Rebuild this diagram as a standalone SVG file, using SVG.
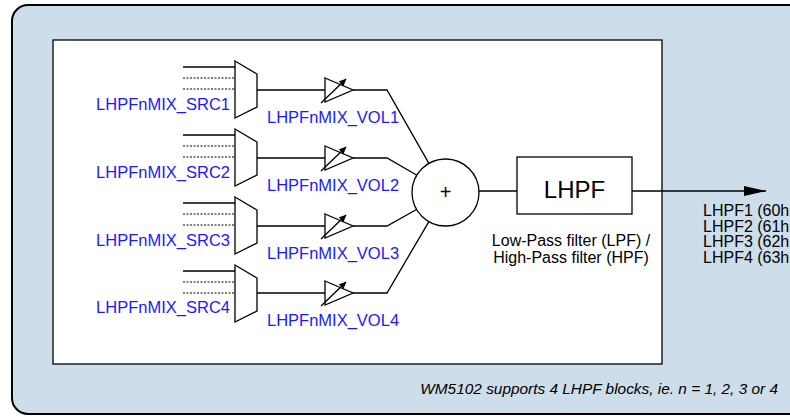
<svg xmlns="http://www.w3.org/2000/svg" width="790" height="419" viewBox="0 0 790 419">
<defs>
<style>
.ln{stroke:#000;stroke-width:1.3;fill:none}
.dt{stroke:#000;stroke-width:1;stroke-dasharray:2,1.5;fill:none}
.sh{stroke:#000;stroke-width:1.3;fill:#fff}
.blue{font-family:"Liberation Sans",Arial,sans-serif;font-size:16.5px;fill:#1a1aff}
.blk{font-family:"Liberation Sans",Arial,sans-serif;fill:#000}
</style>
<marker id="ah" markerWidth="8" markerHeight="8" refX="7" refY="4" orient="auto" markerUnits="userSpaceOnUse">
<path d="M0,0.5 L7.5,4 L0,7.5 Z" fill="#000"/>
</marker>
<marker id="big" markerWidth="24" markerHeight="12" refX="22" refY="6" orient="auto" markerUnits="userSpaceOnUse">
<path d="M0,1 L22,6 L0,11 Z" fill="#000"/>
</marker>
</defs>
<rect id="frame" x="12" y="5" width="800" height="409" rx="16" ry="16" fill="#cddde9" stroke="#000" stroke-width="2"/>
<rect id="panel" x="53" y="40" width="609" height="324" fill="#fff" stroke="#000" stroke-width="1.3"/>

<g id="connectors">
<g>
<line class="ln" x1="183" y1="67" x2="235" y2="67"/>
<line class="dt" x1="183" y1="78" x2="235" y2="78"/>
<line class="dt" x1="183" y1="89" x2="235" y2="89"/>
<line class="ln" x1="183" y1="135" x2="235" y2="135"/>
<line class="dt" x1="183" y1="146" x2="235" y2="146"/>
<line class="dt" x1="183" y1="157" x2="235" y2="157"/>
<line class="ln" x1="183" y1="203" x2="235" y2="203"/>
<line class="dt" x1="183" y1="214" x2="235" y2="214"/>
<line class="dt" x1="183" y1="225" x2="235" y2="225"/>
<line class="ln" x1="183" y1="271" x2="235" y2="271"/>
<line class="dt" x1="183" y1="282" x2="235" y2="282"/>
<line class="dt" x1="183" y1="293" x2="235" y2="293"/>
</g>
<line class="ln" x1="257" y1="90" x2="325" y2="90"/>
<line class="ln" x1="257" y1="158" x2="325" y2="158"/>
<line class="ln" x1="257" y1="226" x2="325" y2="226"/>
<line class="ln" x1="257" y1="293" x2="325" y2="293"/>
<polyline class="ln" points="353,90 387,90 428.9,163.4"/>
<polyline class="ln" points="353,158 387,158 416.5,175"/>
<polyline class="ln" points="353,226 387,226 416.5,209.5"/>
<polyline class="ln" points="353,293 387,293 428.9,221.6"/>
<line class="ln" x1="479" y1="191" x2="517" y2="191"/>
<line class="ln" x1="632" y1="191" x2="766" y2="191" marker-end="url(#big)"/>
</g>

<g id="mux1"><path class="sh" d="M235,61 L257,74 L257,107 L235,118 Z"/><text class="blue" x="230" y="110" text-anchor="end">LHPFnMIX_SRC1</text></g>
<g id="mux2"><path class="sh" d="M235,129 L257,142 L257,175 L235,186 Z"/><text class="blue" x="230" y="178" text-anchor="end">LHPFnMIX_SRC2</text></g>
<g id="mux3"><path class="sh" d="M235,197 L257,210 L257,243 L235,254 Z"/><text class="blue" x="230" y="246" text-anchor="end">LHPFnMIX_SRC3</text></g>
<g id="mux4"><path class="sh" d="M235,265 L257,278 L257,311 L235,322 Z"/><text class="blue" x="230" y="313" text-anchor="end">LHPFnMIX_SRC4</text></g>

<g id="vol1"><path class="sh" d="M325,78 L353,90 L325,102 Z"/><line class="ln" x1="321" y1="103" x2="346" y2="79" marker-end="url(#ah)"/><text class="blue" x="267" y="123" font-size="16">LHPFnMIX_VOL1</text></g>
<g id="vol2"><path class="sh" d="M325,146 L353,158 L325,170 Z"/><line class="ln" x1="321" y1="171" x2="346" y2="147" marker-end="url(#ah)"/><text class="blue" x="267" y="191" font-size="16">LHPFnMIX_VOL2</text></g>
<g id="vol3"><path class="sh" d="M325,214 L353,226 L325,238 Z"/><line class="ln" x1="321" y1="239" x2="346" y2="215" marker-end="url(#ah)"/><text class="blue" x="267" y="259" font-size="16">LHPFnMIX_VOL3</text></g>
<g id="vol4"><path class="sh" d="M325,281 L353,293 L325,305 Z"/><line class="ln" x1="321" y1="306" x2="346" y2="282" marker-end="url(#ah)"/><text class="blue" x="267" y="326" font-size="16">LHPFnMIX_VOL4</text></g>

<g id="sum"><circle class="sh" cx="445.5" cy="192.5" r="33.5"/><text class="blk" x="445.5" y="199" font-size="20" text-anchor="middle">+</text></g>

<g id="lhpf"><rect class="sh" x="517" y="157" width="115" height="57"/><text class="blk" x="574.5" y="198" font-size="24" text-anchor="middle">LHPF</text>
<text class="blk" x="571" y="246" font-size="16" text-anchor="middle">Low-Pass filter (LPF) /</text>
<text class="blk" x="571" y="263" font-size="16" text-anchor="middle">High-Pass filter (HPF)</text></g>

<g id="outputs">
<text class="blk" x="703" y="216" font-size="16">LHPF1 (60h</text>
<text class="blk" x="703" y="231.7" font-size="16">LHPF2 (61h</text>
<text class="blk" x="703" y="247.4" font-size="16">LHPF3 (62h</text>
<text class="blk" x="703" y="263" font-size="16">LHPF4 (63h</text>
</g>

<text id="note" class="blk" x="778" y="394" font-size="15.4" font-style="italic" text-anchor="end">WM5102 supports 4 LHPF blocks, ie. n = 1, 2, 3 or 4</text>
</svg>
